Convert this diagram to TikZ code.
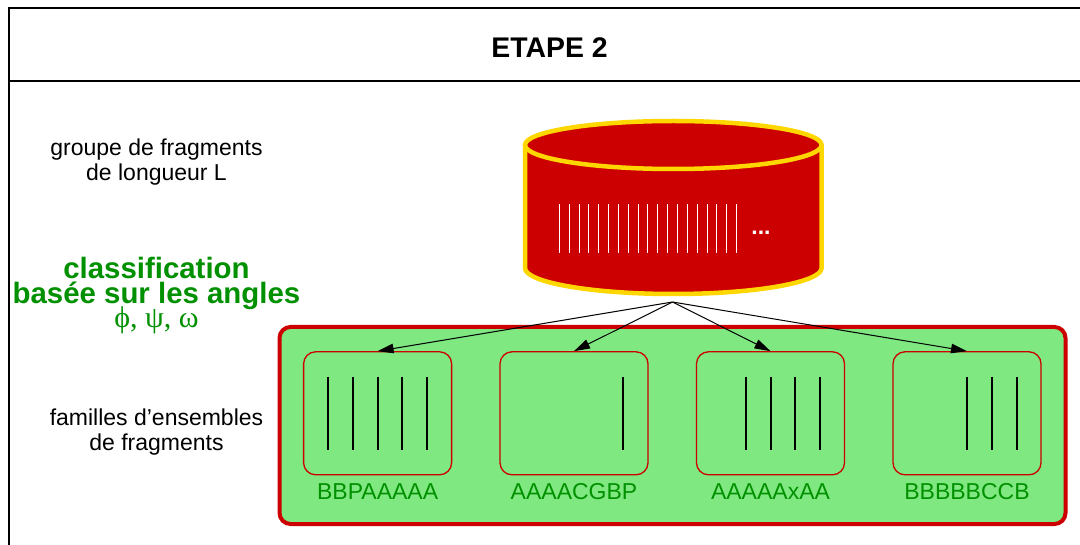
\documentclass[tikz,border=0pt]{standalone}
\usepackage{fontspec}
\setmainfont{Liberation Sans}
\newfontfamily\greekfont{Liberation Serif}
\usetikzlibrary{arrows.meta}
\definecolor{cylred}{RGB}{204,0,0}
\definecolor{cylgold}{RGB}{255,215,0}
\definecolor{famgreen}{RGB}{128,232,128}
\definecolor{txtgreen}{RGB}{0,144,0}
\tikzstyle{line} = [draw, black, line width=1pt, -{Triangle[length=16pt,width=9.5pt]}]
\tikzstyle{frame} = [draw, black, line width=1.5pt]
\tikzstyle{label} = [align=center, inner sep=0pt, font=\fontsize{23}{25}\selectfont]
\tikzstyle{class} = [align=center, inner sep=0pt, text=txtgreen, font=\fontsize{29.4}{25}\selectfont\bfseries]
\tikzstyle{family} = [draw=cylred, fill=famgreen, line width=1.3pt, rounded corners=12pt, minimum width=148pt, minimum height=123pt, inner sep=0pt]
\tikzstyle{code} = [inner sep=0pt, text=txtgreen, font=\fontsize{23}{25}\selectfont]
\tikzstyle{bar} = [draw, black, line width=2pt]
\tikzstyle{whitebar} = [draw, white, line width=1pt]

\begin{document}
\begin{tikzpicture}[x=1pt, y=-1pt]
        \useasboundingbox (0,0) rectangle (1080,545);
        % frame
        \draw[frame] (1080,8) -- (9,8) -- (9,545);
        \draw[frame] (9,81) -- (1080,81);
        \node[inner sep=0pt, font=\fontsize{28.4}{30}\selectfont\bfseries] (title) at (549.5,48) {ETAPE 2};
        % cylinder
        \draw[draw=cylgold, fill=cylred, line width=4.5pt] (525,145) -- (525,268) arc[start angle=180, end angle=360, x radius=148.3pt, y radius=26pt] -- (821.6,145);
        \draw[draw=cylgold, fill=cylred, line width=4.5pt] (673.3,145) ellipse[x radius=148.3pt, y radius=24pt];
        \foreach \x in {0,...,18}
            \draw[whitebar] (559.3+9.85*\x,204.3) -- (559.3+9.85*\x,253.3);
        \node[inner sep=0pt, text=white, font=\fontsize{23}{25}\selectfont\bfseries] (dots) at (761,232.5) {...};
        % left labels
        \node[label] (group) at (156.5,162.5) {groupe de fragments\\de longueur L};
        \node[class] (classif) at (156.5,283.5) {classification\\basée sur les angles};
        \node[inner sep=0pt, text=txtgreen, font=\fontsize{30}{25}\selectfont\greekfont] (angles) at (156.5,320) {ϕ, ψ, ω};
        \node[label] (families) at (156.5,432) {familles d’ensembles\\de fragments};
        % families
        \draw[draw=cylred, fill=famgreen, line width=4pt, rounded corners=11pt] (279.5,327) rectangle (1065.5,524);
        \node[family] (fam1) at (377.6,413.3) {};
        \node[family] (fam2) at (574,413.3) {};
        \node[family] (fam3) at (770.5,413.3) {};
        \node[family] (fam4) at (967,413.3) {};
        \foreach \x in {328.3,353,377.7,402.2,427,623.3,746,770.7,795.2,820,967.3,992,1016.5}
            \draw[bar] (\x,376.7) -- (\x,450);
        \node[code, below of=fam1, node distance=78pt] (code1) {BBPAAAAA};
        \node[code, below of=fam2, node distance=78pt] (code2) {AAAACGBP};
        \node[code, below of=fam3, node distance=78pt] (code3) {AAAAAxAA};
        \node[code, below of=fam4, node distance=78pt] (code4) {BBBBBCCB};
        % arrows
        \coordinate (hub) at (672.5,302);
        \path[line] (hub) -- (fam1.north);
        \path[line] (hub) -- (fam2.north);
        \path[line] (hub) -- (fam3.north);
        \path[line] (hub) -- (fam4.north);
    \end{tikzpicture}
\end{document}
